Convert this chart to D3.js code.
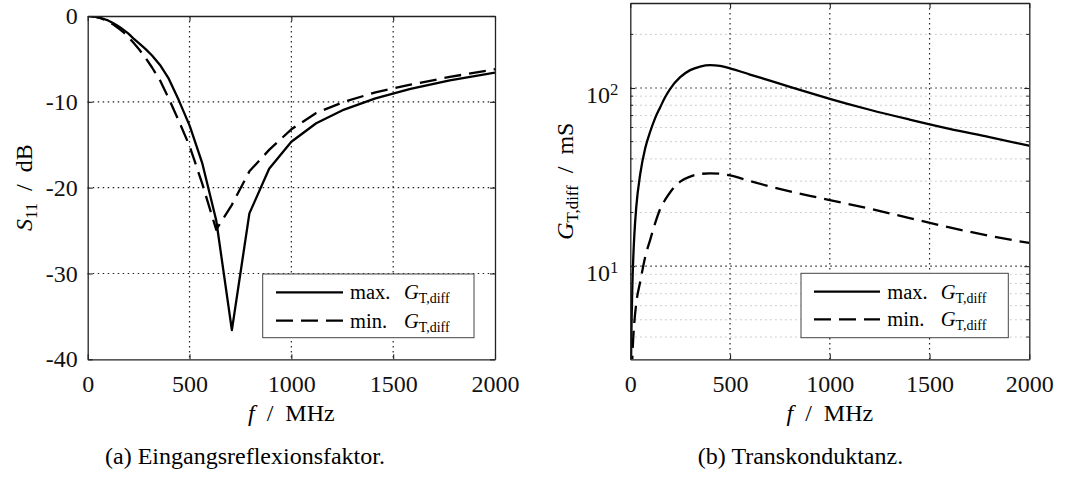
<!DOCTYPE html>
<html>
<head>
<meta charset="utf-8">
<script src="https://cdn.jsdelivr.net/npm/d3@7"></script>
<style>
  body { margin: 0; background: #fff; }
  svg { display: block; }
</style>
</head>
<body>
<svg id="chart" width="1071" height="478" font-family="'Liberation Serif', 'DejaVu Serif', 'Noto Serif', serif"></svg>
<script>
// ---- (a) input reflection S11 over frequency ----
const freqS11 = [1, 10, 20, 40, 63, 79, 100, 112, 126, 141, 158, 178, 200, 224, 251, 282, 316, 355, 398, 447,
                 501, 562, 631, 708, 794, 891, 1000, 1122, 1259, 1413, 1585, 1778, 2000];
const s11Max = [0, -0.01, -0.03, -0.1, -0.22, -0.35, -0.52, -0.66, -0.85, -1.05, -1.3, -1.65, -2.05, -2.6, -3.15,
                -3.8, -4.6, -5.7, -7.3, -9.8, -12.8, -17.1, -23.8, -36.6, -23.0, -17.8, -14.65, -12.5, -10.9,
                -9.6, -8.5, -7.5, -6.6];
const s11Min = [0, -0.01, -0.03, -0.11, -0.25, -0.4, -0.62, -0.8, -1.0, -1.25, -1.55, -1.95, -2.45, -3.1, -3.85,
                -4.8, -6.0, -7.5, -9.6, -12.2, -15.2, -19.5, -24.9, -22.0, -18.1, -15.6, -13.2, -11.3, -10.0,
                -8.9, -8.0, -7.1, -6.2];

// ---- (b) transconductance over frequency ----
const freqG = [1, 3, 5, 10, 15, 20, 30, 50, 75, 100, 125, 150, 175, 200, 250, 300, 350, 400, 450, 500,
               600, 700, 800, 900, 1000, 1200, 1400, 1600, 1800, 2000];
const gMax = [0.75, 2.3, 3.8, 7.5, 11.2, 14.8, 21.5, 33, 46, 57, 68, 78, 89, 99, 115, 126, 132, 134.5, 133, 129,
              119, 110, 101.5, 94, 87, 75.5, 66.5, 59, 53, 47.4];
const gMin = [0.5, 1.3, 1.8, 3.0, 4.0, 4.8, 6.2, 8.2, 11.3, 14.1, 17.5, 21.0, 23.6, 26.0, 29.8, 31.8, 32.9, 33.2,
              33.0, 32.3, 30.0, 28.0, 26.3, 24.8, 23.5, 21.0, 18.6, 16.5, 14.8, 13.5];

// ---- ticks and labels ----
const freqTicks = [0, 500, 1000, 1500, 2000];
const s11Ticks = [0, -10, -20, -30, -40];
const gTicks = [10, 100];
const gMinorTicks = [4, 5, 6, 7, 8, 9, 20, 30, 40, 50, 60, 70, 80, 90, 200];
const seriesNames = ["max.", "min."];
const captions = ["(a) Eingangsreflexionsfaktor.", "(b) Transkonduktanz."];

const FONT = 24;
const LEG_FONT = 20.5;
const svg = d3.select("#chart");

const lineStyles = [
  { dash: null },
  { dash: "17,8" }
];

function styleAxis(g) {
  g.attr("font-family", null).attr("font-size", FONT);
  g.selectAll(".domain").attr("stroke", "#222").attr("stroke-width", 1.3);
  g.selectAll(".tick line").attr("stroke", "#222").attr("stroke-width", 1.1);
  g.selectAll(".tick text").attr("fill", "#111");
}

function gridLine(g, x1, y1, x2, y2, minor) {
  g.append("line")
    .attr("x1", x1).attr("y1", y1).attr("x2", x2).attr("y2", y2)
    .attr("stroke", minor ? "#b5b5b5" : "#222")
    .attr("stroke-width", minor ? 1 : 1.2)
    .attr("stroke-dasharray", minor ? "1.3,3.7" : "1.5,3.5");
}

function drawFrame(g, x, y, xTickVals, yTickVals, yFmt, padY) {
  const [x0, x1] = x.range();
  const [y0, y1] = y.range();
  const bottom = g.append("g").attr("transform", `translate(0,${y0})`)
    .call(d3.axisBottom(x).tickValues(xTickVals).tickSizeInner(-5).tickSizeOuter(0).tickPadding(16)
      .tickFormat(d => String(d)));
  styleAxis(bottom);
  const top = g.append("g").attr("transform", `translate(0,${y1})`)
    .call(d3.axisTop(x).tickValues(xTickVals).tickSizeInner(-5).tickSizeOuter(0).tickFormat(""));
  styleAxis(top);
  const left = g.append("g").attr("transform", `translate(${x0},0)`)
    .call(d3.axisLeft(y).tickValues(yTickVals).tickSizeInner(-5).tickSizeOuter(0).tickPadding(padY).tickFormat(yFmt));
  styleAxis(left);
  const right = g.append("g").attr("transform", `translate(${x1},0)`)
    .call(d3.axisRight(y).tickValues(yTickVals).tickSizeInner(-5).tickSizeOuter(0).tickFormat(""));
  styleAxis(right);
  return left;
}

function drawLegend(g, box, lineX, rows, textX, gX) {
  g.append("rect")
    .attr("x", box.x).attr("y", box.y).attr("width", box.w).attr("height", box.h)
    .attr("fill", "#fff").attr("stroke", "#444").attr("stroke-width", 1);
  rows.forEach((ry, i) => {
    g.append("line")
      .attr("x1", lineX[0]).attr("x2", lineX[1]).attr("y1", ry).attr("y2", ry)
      .attr("stroke", "#000").attr("stroke-width", 2.3)
      .attr("stroke-dasharray", lineStyles[i].dash);
    const t = g.append("text").attr("y", ry + 7).attr("font-size", LEG_FONT);
    t.append("tspan").attr("x", textX).text(seriesNames[i]);
    t.append("tspan").attr("x", gX).attr("font-style", "italic").text("G");
    t.append("tspan").attr("dy", "0.28em").attr("font-size", LEG_FONT * 0.68).text("T,diff");
  });
}

// ================= panel (a) =================
{
  const x = d3.scaleLinear().domain([0, 2000]).range([87.7, 495]);
  const y = d3.scaleLinear().domain([-40, 0]).range([359.3, 16]);
  const g = svg.append("g");

  g.append("clipPath").attr("id", "clipA").append("rect")
    .attr("x", x(0)).attr("y", y(0)).attr("width", x(2000) - x(0)).attr("height", y(-40) - y(0));

  const grid = g.append("g");
  freqTicks.slice(1, -1).forEach(v => gridLine(grid, x(v), y(0), x(v), y(-40), false));
  s11Ticks.slice(1, -1).forEach(v => gridLine(grid, x(0), y(v), x(2000), y(v), false));

  const series = [s11Max, s11Min];
  series.forEach((vals, i) => {
    const line = d3.line().x((d, j) => x(freqS11[j])).y(d => y(d));
    g.append("path")
      .attr("d", line(vals))
      .attr("clip-path", "url(#clipA)")
      .attr("fill", "none").attr("stroke", "#000").attr("stroke-width", 2.3)
      .attr("stroke-linejoin", "round")
      .attr("stroke-dasharray", lineStyles[i].dash);
  });

  drawFrame(g, x, y, freqTicks, s11Ticks, d => String(d), 10);

  drawLegend(g, { x: 262.7, y: 274, w: 211.3, h: 63.7 }, [276, 343], [292.3, 320.7], 350, 404);

  const yl = g.append("text")
    .attr("transform", `translate(31.5,${(y(0) + y(-40)) / 2}) rotate(-90)`)
    .attr("text-anchor", "middle").attr("font-size", FONT);
  yl.append("tspan").attr("font-style", "italic").text("S");
  yl.append("tspan").attr("font-size", FONT * 0.7).attr("dy", "0.3em").text("11");
  yl.append("tspan").attr("dy", "-0.21em").text("\u2002/\u2002dB");

  const xl = g.append("text")
    .attr("x", (x(0) + x(2000)) / 2).attr("y", 421)
    .attr("text-anchor", "middle").attr("font-size", FONT);
  xl.append("tspan").attr("font-style", "italic").text("f");
  xl.append("tspan").text("\u2002/\u2002MHz");

  g.append("text").attr("x", 245).attr("y", 464)
    .attr("text-anchor", "middle").attr("font-size", FONT).text(captions[0]);
}

// ================= panel (b) =================
{
  const x = d3.scaleLinear().domain([0, 2000]).range([630.3, 1029.3]);
  const y = d3.scaleLog().domain([3, 300]).range([359.3, 3]);
  const g = svg.append("g");

  g.append("clipPath").attr("id", "clipB").append("rect")
    .attr("x", x(0)).attr("y", y(300)).attr("width", x(2000) - x(0)).attr("height", y(3) - y(300));

  const grid = g.append("g");
  gMinorTicks.forEach(v => gridLine(grid, x(0), y(v), x(2000), y(v), true));
  freqTicks.slice(1, -1).forEach(v => gridLine(grid, x(v), y(300), x(v), y(3), false));
  gTicks.forEach(v => gridLine(grid, x(0), y(v), x(2000), y(v), false));

  const series = [gMax, gMin];
  series.forEach((vals, i) => {
    const line = d3.line().x((d, j) => x(freqG[j])).y(d => y(d)).curve(d3.curveMonotoneX);
    g.append("path")
      .attr("d", line(vals))
      .attr("clip-path", "url(#clipB)")
      .attr("fill", "none").attr("stroke", "#000").attr("stroke-width", 2.3)
      .attr("stroke-linejoin", "round")
      .attr("stroke-dasharray", lineStyles[i].dash);
  });

  // minor ticks on the log axis, inside the frame
  gMinorTicks.forEach(v => {
    g.append("line").attr("x1", x(0)).attr("x2", x(0) + 3).attr("y1", y(v)).attr("y2", y(v))
      .attr("stroke", "#222").attr("stroke-width", 1);
    g.append("line").attr("x1", x(2000)).attr("x2", x(2000) - 3).attr("y1", y(v)).attr("y2", y(v))
      .attr("stroke", "#222").attr("stroke-width", 1);
  });

  const left = drawFrame(g, x, y, freqTicks, gTicks, () => "10", 12);
  left.selectAll(".tick text")
    .attr("dy", "0.6em")
    .each(function (d) {
      d3.select(this).append("tspan")
        .attr("dy", "-0.5em").attr("font-size", FONT * 0.7)
        .text(Math.round(Math.log10(d)));
    });

  drawLegend(g, { x: 801, y: 273.3, w: 207.3, h: 64.4 }, [814, 880], [291.7, 319.3], 887.3, 940.7);

  const yl = g.append("text")
    .attr("transform", `translate(573,${(y(300) + y(3)) / 2}) rotate(-90)`)
    .attr("text-anchor", "middle").attr("font-size", FONT);
  yl.append("tspan").attr("font-style", "italic").text("G");
  yl.append("tspan").attr("font-size", FONT * 0.7).attr("dy", "0.3em").text("T,diff");
  yl.append("tspan").attr("dy", "-0.21em").text("\u2002/\u2002mS");

  const xl = g.append("text")
    .attr("x", (x(0) + x(2000)) / 2).attr("y", 421)
    .attr("text-anchor", "middle").attr("font-size", FONT);
  xl.append("tspan").attr("font-style", "italic").text("f");
  xl.append("tspan").text("\u2002/\u2002MHz");

  g.append("text").attr("x", 800.5).attr("y", 464)
    .attr("text-anchor", "middle").attr("font-size", FONT).text(captions[1]);
}
</script>
</body>
</html>
